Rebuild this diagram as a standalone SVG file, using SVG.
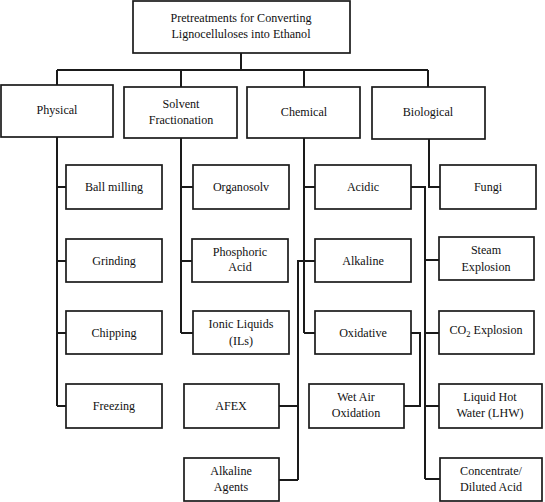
<svg xmlns="http://www.w3.org/2000/svg" width="545" height="502" viewBox="0 0 545 502" font-family="'Liberation Serif', 'Times New Roman', serif">
<style>
.n rect{fill:#fff;stroke:#1a1a1a;stroke-width:1.7}
.n text{font-family:'Liberation Serif',serif;font-size:12.1px;fill:#111;text-anchor:middle}
#connectors path{fill:none;stroke:#1a1a1a;stroke-width:2}
</style>
<rect width="545" height="502" fill="#fff"/>
<g id="connectors">
<path d="M241 53V70M57 70H428M57 70V85M181 70V87M304 70V87M428 70V87"/>
<path d="M57 137V406M57 187H66M57 261H66M57 333H66M57 406H66"/>
<path d="M181 138V333M181 187H193M181 261H192M181 333H193"/>
<path d="M304 138V333M304 187H315M304 333H315"/>
<path d="M315 261H298V480M298 406H279M298 480H279"/>
<path d="M411 187H425V479M425 260H439M425 333H439M425 406H439M425 479H440"/>
<path d="M411 333H420V406H404"/>
<path d="M429 139V187H440"/>
</g>
<g id="root" class="n"><rect x="133" y="1" width="217" height="52"/><text x="241" y="22">Pretreatments for Converting</text><text x="241" y="38">Lignocelluloses into Ethanol</text></g>
<g id="physical" class="n"><rect x="1" y="85" width="112" height="52"/><text x="57" y="114">Physical</text></g>
<g id="solvent" class="n"><rect x="124" y="87" width="113" height="51"/><text x="181" y="108">Solvent</text><text x="181" y="124">Fractionation</text></g>
<g id="chemical" class="n"><rect x="247" y="87" width="113" height="51"/><text x="304" y="116">Chemical</text></g>
<g id="biological" class="n"><rect x="372" y="87" width="113" height="52"/><text x="428" y="116">Biological</text></g>
<g id="ballmilling" class="n"><rect x="66" y="165" width="96" height="44"/><text x="114" y="191">Ball milling</text></g>
<g id="grinding" class="n"><rect x="66" y="239" width="96" height="43"/><text x="114" y="265">Grinding</text></g>
<g id="chipping" class="n"><rect x="66" y="311" width="96" height="43"/><text x="114" y="337">Chipping</text></g>
<g id="freezing" class="n"><rect x="66" y="384" width="96" height="44"/><text x="114" y="410">Freezing</text></g>
<g id="organosolv" class="n"><rect x="193" y="165" width="96" height="44"/><text x="241" y="191">Organosolv</text></g>
<g id="phosphoric" class="n"><rect x="192" y="239" width="96" height="43"/><text x="240" y="256">Phosphoric</text><text x="240" y="271">Acid</text></g>
<g id="ionic" class="n"><rect x="193" y="311" width="96" height="43"/><text x="241" y="328">Ionic Liquids</text><text x="241" y="345">(ILs)</text></g>
<g id="afex" class="n"><rect x="184" y="384" width="95" height="44"/><text x="231" y="410">AFEX</text></g>
<g id="alkagents" class="n"><rect x="184" y="458" width="95" height="43"/><text x="231" y="475">Alkaline</text><text x="231" y="491">Agents</text></g>
<g id="acidic" class="n"><rect x="315" y="165" width="96" height="44"/><text x="363" y="191">Acidic</text></g>
<g id="alkaline" class="n"><rect x="315" y="239" width="96" height="43"/><text x="363" y="265">Alkaline</text></g>
<g id="oxidative" class="n"><rect x="315" y="311" width="96" height="43"/><text x="363" y="337">Oxidative</text></g>
<g id="wetair" class="n"><rect x="309" y="384" width="95" height="44"/><text x="356" y="401">Wet Air</text><text x="356" y="417">Oxidation</text></g>
<g id="fungi" class="n"><rect x="440" y="165" width="96" height="44"/><text x="488" y="191">Fungi</text></g>
<g id="steam" class="n"><rect x="439" y="237" width="95" height="43"/><text x="486" y="254">Steam</text><text x="486" y="271">Explosion</text></g>
<g id="co2" class="n"><rect x="439" y="311" width="95" height="43"/><text x="486" y="334">CO<tspan font-size="8.5" dy="3">2</tspan><tspan dy="-3"> Explosion</tspan></text></g>
<g id="lhw" class="n"><rect x="439" y="384" width="103" height="44"/><text x="490" y="401">Liquid Hot</text><text x="490" y="417">Water (LHW)</text></g>
<g id="acid" class="n"><rect x="440" y="458" width="102" height="43"/><text x="491" y="475">Concentrate/</text><text x="491" y="491">Diluted Acid</text></g>
</svg>
